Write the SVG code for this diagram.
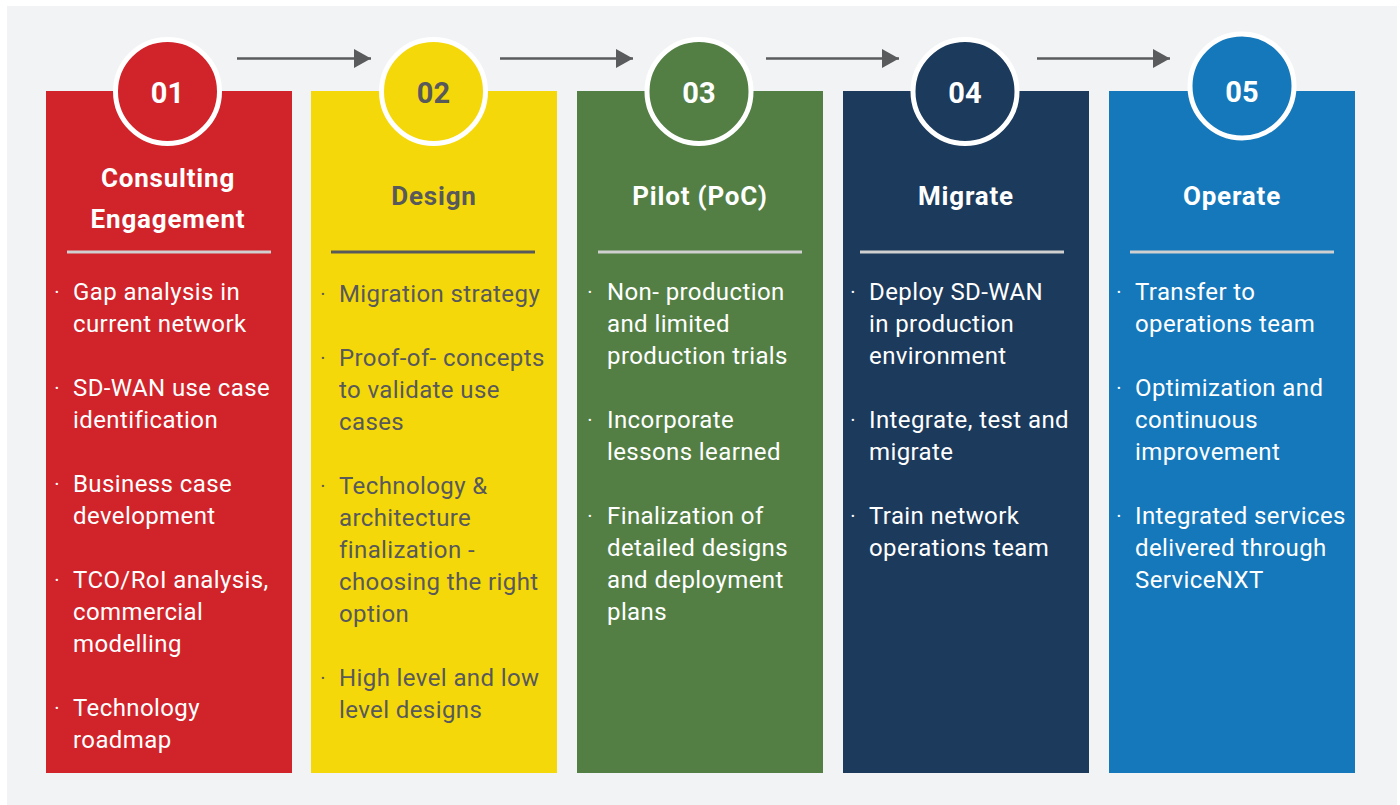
<svg xmlns="http://www.w3.org/2000/svg" width="1400" height="805" viewBox="0 0 1400 805">
<defs>
<style>
.num{font-family:Roboto,"Liberation Sans",sans-serif;font-weight:700;font-size:29px;text-anchor:middle}
.hd{font-family:Roboto,"Liberation Sans",sans-serif;font-weight:700;font-size:26px;letter-spacing:0.8px;text-anchor:middle}
.bd{font-family:Roboto,"Liberation Sans",sans-serif;font-weight:400;font-size:24px;letter-spacing:0.4px}
.bd .b{font-size:11px;letter-spacing:0}
.w{fill:#ffffff}
.g{fill:#58595b}
.ring{stroke:#ffffff;stroke-width:5}
.conn{stroke:#5a5b5d;stroke-width:2.5;fill:none}
</style>
<marker id="ah" viewBox="0 0 10 10" refX="10" refY="5" markerWidth="17" markerHeight="19" markerUnits="userSpaceOnUse" orient="auto" preserveAspectRatio="none">
<path d="M0,0 L10,5 L0,10 Z" fill="#5a5b5d"/>
</marker>
</defs>
<rect x="7" y="6" width="1390" height="799" fill="#f2f3f5"/>

<g id="connectors">
<line class="conn" x1="237" y1="58.5" x2="371" y2="58.5" marker-end="url(#ah)"/>
<line class="conn" x1="500" y1="58.5" x2="633" y2="58.5" marker-end="url(#ah)"/>
<line class="conn" x1="766" y1="58.5" x2="899" y2="58.5" marker-end="url(#ah)"/>
<line class="conn" x1="1037" y1="58.5" x2="1170" y2="58.5" marker-end="url(#ah)"/>
</g>

<g id="step1">
<rect x="46" y="91" width="246" height="682" fill="#d1232a"/>
<circle class="ring" cx="167.5" cy="91.5" r="52" fill="#d1232a"/>
<text class="num w" x="167.5" y="103">01</text>
<text class="hd w" x="168" y="187">Consulting</text>
<text class="hd w" x="168" y="228">Engagement</text>
<line x1="67" y1="252" x2="271" y2="252" stroke="#d0d0d0" stroke-width="3"/>
<g class="bd w">
<text class="b" x="55" y="296">•</text><text x="73" y="300">Gap analysis in</text>
<text x="73" y="332">current network</text>
<text class="b" x="55" y="392">•</text><text x="73" y="396">SD-WAN use case</text>
<text x="73" y="428">identification</text>
<text class="b" x="55" y="488">•</text><text x="73" y="492">Business case</text>
<text x="73" y="524">development</text>
<text class="b" x="55" y="584">•</text><text x="73" y="588">TCO/RoI analysis,</text>
<text x="73" y="620">commercial</text>
<text x="73" y="652">modelling</text>
<text class="b" x="55" y="712">•</text><text x="73" y="716">Technology</text>
<text x="73" y="748">roadmap</text>
</g>
</g>

<g id="step2">
<rect x="311" y="91" width="246" height="682" fill="#f5d80a"/>
<circle class="ring" cx="433.5" cy="91.5" r="52" fill="#f5d80a"/>
<text class="num g" x="433.5" y="103">02</text>
<text class="hd g" x="434" y="205">Design</text>
<line x1="331" y1="252" x2="535" y2="252" stroke="#58595b" stroke-width="3"/>
<g class="bd g">
<text class="b" x="321" y="298">•</text><text x="339" y="302">Migration strategy</text>
<text class="b" x="321" y="362">•</text><text x="339" y="366">Proof-of- concepts</text>
<text x="339" y="398">to validate use</text>
<text x="339" y="430">cases</text>
<text class="b" x="321" y="490">•</text><text x="339" y="494">Technology &amp;</text>
<text x="339" y="526">architecture</text>
<text x="339" y="558">finalization -</text>
<text x="339" y="590">choosing the right</text>
<text x="339" y="622">option</text>
<text class="b" x="321" y="682">•</text><text x="339" y="686">High level and low</text>
<text x="339" y="718">level designs</text>
</g>
</g>

<g id="step3">
<rect x="577" y="91" width="246" height="682" fill="#537f45"/>
<circle class="ring" cx="699" cy="91.5" r="52" fill="#537f45"/>
<text class="num w" x="699" y="103">03</text>
<text class="hd w" x="700" y="205">Pilot (PoC)</text>
<line x1="598" y1="252" x2="802" y2="252" stroke="#d0d0d0" stroke-width="3"/>
<g class="bd w">
<text class="b" x="588" y="296">•</text><text x="607" y="300">Non- production</text>
<text x="607" y="332">and limited</text>
<text x="607" y="364">production trials</text>
<text class="b" x="588" y="424">•</text><text x="607" y="428">Incorporate</text>
<text x="607" y="460">lessons learned</text>
<text class="b" x="588" y="520">•</text><text x="607" y="524">Finalization of</text>
<text x="607" y="556">detailed designs</text>
<text x="607" y="588">and deployment</text>
<text x="607" y="620">plans</text>
</g>
</g>

<g id="step4">
<rect x="843" y="91" width="246" height="682" fill="#1b3a5c"/>
<circle class="ring" cx="965" cy="91.5" r="52" fill="#1b3a5c"/>
<text class="num w" x="965" y="103">04</text>
<text class="hd w" x="966" y="205">Migrate</text>
<line x1="860" y1="252" x2="1064" y2="252" stroke="#d0d0d0" stroke-width="3"/>
<g class="bd w">
<text class="b" x="851" y="296">•</text><text x="869" y="300">Deploy SD-WAN</text>
<text x="869" y="332">in production</text>
<text x="869" y="364">environment</text>
<text class="b" x="851" y="424">•</text><text x="869" y="428">Integrate, test and</text>
<text x="869" y="460">migrate</text>
<text class="b" x="851" y="520">•</text><text x="869" y="524">Train network</text>
<text x="869" y="556">operations team</text>
</g>
</g>

<g id="step5">
<rect x="1109" y="91" width="246" height="682" fill="#1478bb"/>
<circle class="ring" cx="1242" cy="86" r="52" fill="#1478bb"/>
<text class="num w" x="1242" y="102">05</text>
<text class="hd w" x="1232" y="205">Operate</text>
<line x1="1130" y1="252" x2="1334" y2="252" stroke="#d0d0d0" stroke-width="3"/>
<g class="bd w">
<text class="b" x="1117" y="296">•</text><text x="1135" y="300">Transfer to</text>
<text x="1135" y="332">operations team</text>
<text class="b" x="1117" y="392">•</text><text x="1135" y="396">Optimization and</text>
<text x="1135" y="428">continuous</text>
<text x="1135" y="460">improvement</text>
<text class="b" x="1117" y="520">•</text><text x="1135" y="524">Integrated services</text>
<text x="1135" y="556">delivered through</text>
<text x="1135" y="588">ServiceNXT</text>
</g>
</g>
</svg>
